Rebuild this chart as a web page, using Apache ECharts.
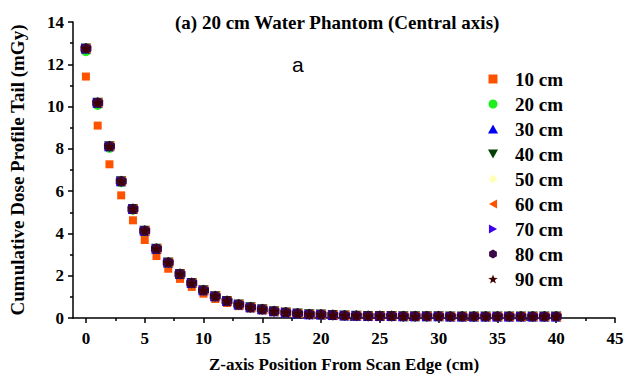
<!DOCTYPE html>
<html>
<head>
<meta charset="utf-8">
<script src="https://cdn.jsdelivr.net/npm/echarts@6/dist/echarts.min.js"></script>
<style>
  html, body { margin: 0; padding: 0; background: #fff; }
  #chart { width: 636px; height: 381px; }
</style>
</head>
<body>
<div id="chart"></div>
<script>
// z-axis positions (cm)
const positions = [0, 1, 2, 3, 4, 5, 6, 7, 8, 9, 10, 11, 12, 13, 14, 15, 16, 17, 18, 19, 20,
  21, 22, 23, 24, 25, 26, 27, 28, 29, 30, 31, 32, 33, 34, 35, 36, 37, 38, 39, 40]
// 10 cm scan length
const dose10 = [11.42, 9.1, 7.27, 5.8, 4.62, 3.69, 2.93, 2.33, 1.85, 1.47, 1.15, 0.9, 0.71, 0.56, 0.45,
  0.36, 0.29, 0.23, 0.19, 0.16, 0.14, 0.12, 0.11, 0.1, 0.09, 0.08, 0.08, 0.07, 0.07, 0.07,
  0.07, 0.07, 0.07, 0.07, 0.07, 0.07, 0.07, 0.07, 0.07, 0.07, 0.07]
// 20 cm scan length
const dose20 = [12.62, 10.08, 8.05, 6.42, 5.12, 4.1, 3.26, 2.6, 2.07, 1.64, 1.3, 1.02, 0.8, 0.63, 0.5,
  0.4, 0.32, 0.26, 0.21, 0.18, 0.15, 0.13, 0.12, 0.11, 0.1, 0.09, 0.08, 0.08, 0.08, 0.07,
  0.07, 0.07, 0.07, 0.07, 0.07, 0.07, 0.07, 0.07, 0.07, 0.07, 0.07]
// 30..90 cm scan lengths lie on top of each other in the figure
const dose30to90 = [12.75, 10.18, 8.12, 6.47, 5.16, 4.13, 3.28, 2.62, 2.08, 1.65, 1.31, 1.03, 0.8, 0.64, 0.51,
  0.41, 0.32, 0.26, 0.21, 0.18, 0.16, 0.14, 0.12, 0.11, 0.1, 0.09, 0.09, 0.08, 0.08, 0.08,
  0.08, 0.07, 0.07, 0.07, 0.07, 0.07, 0.07, 0.07, 0.07, 0.07, 0.07]
const seriesNames = ['10 cm', '20 cm', '30 cm', '40 cm', '50 cm', '60 cm', '70 cm', '80 cm', '90 cm']
const seriesValues = [dose10, dose20, dose30to90, dose30to90, dose30to90, dose30to90, dose30to90, dose30to90, dose30to90]
const xTicks = [0, 5, 10, 15, 20, 25, 30, 35, 40, 45]
const xMinorTicks = [2.5, 7.5, 12.5, 17.5, 22.5, 27.5, 32.5, 37.5, 42.5]

// 标记样式
const markers = [
  { symbol: 'path://M0,0 L10,0 L10,10 L0,10 Z', color: '#ff5200', size: 8 },
  { symbol: 'circle', color: '#1fee1f', size: 10 },
  { symbol: 'path://M5,0 L10,9 L0,9 Z', color: '#0000f0', size: 10 },
  { symbol: 'path://M0,0 L10,0 L5,9 Z', color: '#004000', size: 10 },
  { symbol: 'path://M5,0 L10,5 L5,10 L0,5 Z', color: '#ffffb8', size: 10 },
  { symbol: 'path://M9,0 L9,10 L0,5 Z', color: '#ff5200', size: 10 },
  { symbol: 'path://M0,0 L0,10 L9,5 Z', color: '#3c00f0', size: 10 },
  { symbol: 'path://M5,0 L9.33,2.5 L9.33,7.5 L5,10 L0.67,7.5 L0.67,2.5 Z', color: '#3a0848', size: 11 },
  { symbol: 'path://M5,0 L6.18,3.38 L9.76,3.45 L6.9,5.62 L7.94,9.05 L5,7 L2.06,9.05 L3.1,5.62 L0.24,3.45 L3.82,3.38 Z', color: '#3e0000', size: 11 },
]

const serif = "'Liberation Serif', 'Times New Roman', serif"
const boldText = { fontFamily: serif, fontWeight: 'bold', color: '#000' }
const axisStroke = { color: '#000', width: 1.5 }

// svg 渲染器
const chart = echarts.init(document.getElementById('chart'), null, { renderer: 'svg' })
chart.setOption({
  animation: false,
  title: [
    {
      text: '(a) 20 cm Water Phantom (Central axis)',
      left: 170,
      top: 8,
      textStyle: { ...boldText, fontSize: 19 },
    },
    {
      text: 'a',
      left: 287,
      top: 49,
      textStyle: { fontFamily: "'Liberation Sans', Arial, sans-serif", fontWeight: 'normal', fontSize: 21, color: '#000' },
    },
  ],
  legend: {
    orient: 'vertical',
    left: 483,
    top: 64,
    itemWidth: 34,
    itemHeight: 9,
    itemGap: 5,
    textStyle: { ...boldText, fontSize: 19, lineHeight: 20 },
    data: seriesNames,
  },
  grid: { left: 72, right: 21, top: 22, bottom: 63 },
  xAxis: [
    {
      type: 'value',
      min: -1.1,
      max: 45,
      name: 'Z-axis Position From Scan Edge (cm)',
      nameLocation: 'middle',
      nameGap: 38,
      nameTextStyle: { ...boldText, fontSize: 17 },
      axisLine: { show: true, onZero: false, lineStyle: { ...axisStroke } },
      axisTick: { show: true, customValues: xTicks, length: 5, lineStyle: { ...axisStroke } },
      axisLabel: { customValues: xTicks, margin: 12, ...boldText, fontSize: 17 },
      splitLine: { show: false },
    },
    {
      // 次刻度
      type: 'value',
      min: -1.1,
      max: 45,
      position: 'bottom',
      axisLine: { show: false, onZero: false },
      axisTick: { show: true, customValues: xMinorTicks, length: 3, lineStyle: { ...axisStroke } },
      axisLabel: { show: false },
      splitLine: { show: false },
    },
  ],
  yAxis: {
    type: 'value',
    min: 0,
    max: 14,
    interval: 2,
    name: 'Cumulative Dose Profile Tail (mGy)',
    nameLocation: 'middle',
    nameGap: 46,
    nameTextStyle: { ...boldText, fontSize: 19 },
    axisLine: { show: true, onZero: false, lineStyle: { ...axisStroke } },
    axisTick: { show: true, length: 5, lineStyle: { ...axisStroke } },
    minorTick: { show: true, splitNumber: 2, length: 3, lineStyle: { ...axisStroke } },
    axisLabel: { margin: 9, ...boldText, fontSize: 17 },
    splitLine: { show: false },
  },
  series: seriesNames.map((name, i) => ({
    name,
    type: 'scatter',
    xAxisIndex: 0,
    symbol: markers[i].symbol,
    symbolSize: markers[i].size,
    itemStyle: { color: markers[i].color, opacity: 1 },
    data: positions.map((x, j) => [x, seriesValues[i][j]]),
  })),
})
</script>
</body>
</html>
